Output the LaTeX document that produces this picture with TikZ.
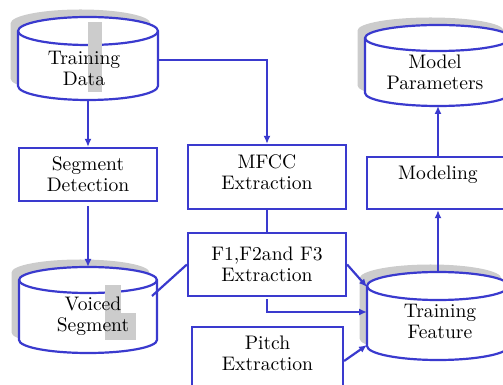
\documentclass[tikz,border=0pt]{standalone}
\usetikzlibrary{arrows.meta}

\definecolor{flowblue}{RGB}{58,58,206}

\tikzset{
  every node/.style={font=\fontsize{9.8}{10.5}\selectfont, align=center},
  box/.style={draw=flowblue, line width=1.1pt, fill=white, inner sep=1pt},
  link/.style={draw=flowblue, line width=1.1pt},
  arr/.style={link, -{Latex[length=4pt,width=3.5pt]}},
}

\begin{document}
\begin{tikzpicture}[x=0.5pt,y=0.5pt]
  \useasboundingbox (0,0) rectangle (503,385);

  % data stores: centre x / top ellipse y / bottom ellipse y / x radius / y radius
  \foreach \cx/\yt/\yb/\rx/\ry in {88/354/299/70/14, 88/105/45/69/13,
                                    438/99/39/71/14, 438/347/292/73/13} {
    \fill[gray!40, shift={(-7.5,7.5)}] ({\cx-\rx},\yt) -- ({\cx-\rx},\yb)
      arc[start angle=180, end angle=360, x radius=\rx, y radius=\ry]
      -- ({\cx+\rx},\yt)
      arc[start angle=0, end angle=180, x radius=\rx, y radius=\ry] -- cycle;
    \filldraw[fill=white, link] ({\cx-\rx},\yt) -- ({\cx-\rx},\yb)
      arc[start angle=180, end angle=360, x radius=\rx, y radius=\ry]
      -- ({\cx+\rx},\yt)
      arc[start angle=0, end angle=180, x radius=\rx, y radius=\ry] -- cycle;
    \draw[link] ({\cx-\rx},\yt)
      arc[start angle=180, end angle=360, x radius=\rx, y radius=\ry];
  }

  % grey strips over the stores
  \fill[gray!40] (88,363) rectangle (102,293);
  \fill[gray!40] (105,100) rectangle (121,45);
  \fill[gray!40] (121,72) rectangle (136,45);

  % left column
  \node (data) at (84,317) {Training\\Data};
  \node[box, minimum width=69pt, minimum height=26.5pt] (seg) at (88,210.5) {Segment\\Detection};
  \node (voiced) at (93,69) {Voiced\\Segment};

  % feature extraction
  \node[box, minimum width=79pt, minimum height=32pt] (mfcc) at (267,208) {MFCC\\Extraction\\[-6pt]\mbox{}};
  \node[box, minimum width=79pt, minimum height=31.5pt] (formant) at (267,120.5) {F1,F2and F3\\Extraction};
  \node[box, minimum width=75.5pt, minimum height=34pt] (pitch) at (267.5,24) {Pitch\\Extraction\\[-3pt]\mbox{}};

  % right column
  \node (feature) at (440,64) {Training\\Feature};
  \node[box, minimum width=71pt, minimum height=26pt] (model) at (438,202) {Modeling\\\mbox{}};
  \node (params) at (435,312.5) {Model\\Parameters};

  % connector ends on the stores
  \coordinate (data-out) at (158,325);
  \coordinate (data-base) at (88,285);
  \coordinate (voiced-lid) at (88,118);
  \coordinate (voiced-out) at (152,89);
  \coordinate (feature-lid) at (438,113);
  \coordinate (feature-in1) at (367,98);
  \coordinate (feature-in2) at (367,73);
  \coordinate (feature-in3) at (367,40);
  \coordinate (params-base) at (438,279);

  % connectors
  \draw[arr] (data-out) -| (mfcc.north);
  \draw[arr] (data-base) -- (seg.north);
  \draw[arr, shorten <=2pt] (seg.south) -- (voiced-lid);
  \draw[link] (voiced-out) -- (formant.west);
  \draw[link] (mfcc) -- (formant);
  \draw[arr, shorten <=1pt] (formant.south) |- (feature-in2);
  \draw[arr] (formant.east) -- (feature-in1);
  \draw[arr] (pitch.east) -- (feature-in3);
  \draw[arr] (feature-lid) -- (model.south);
  \draw[arr] (model.north) -- (params-base);
\end{tikzpicture}
\end{document}
